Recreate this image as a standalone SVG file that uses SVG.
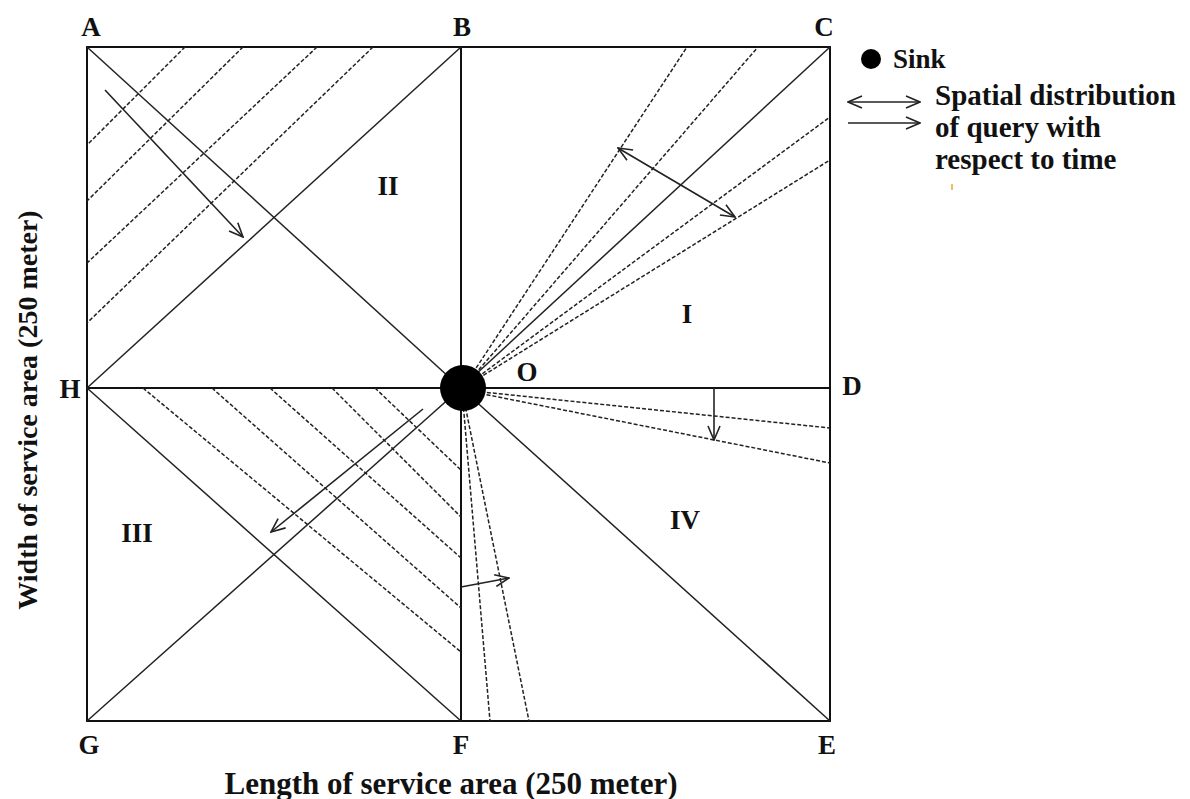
<svg xmlns="http://www.w3.org/2000/svg" width="1190" height="799" viewBox="0 0 1190 799">
  <style>
    .frame { fill: none; stroke: #111; stroke-width: 2; }
    .solid { fill: none; stroke: #222; stroke-width: 1.5; }
    .dash { fill: none; stroke: #222; stroke-width: 1.5; stroke-dasharray: 4 2; }
    .arrow { fill: none; stroke: #222; stroke-width: 1.6; }
    .lbl { font-family: "Liberation Serif", "Times New Roman", serif; font-weight: bold; font-size: 27px; fill: #111; }
    .legend { font-family: "Liberation Serif", "Times New Roman", serif; font-weight: bold; font-size: 29px; fill: #111; }
    .axis { font-family: "Liberation Serif", "Times New Roman", serif; font-weight: bold; font-size: 31px; fill: #111; }
    .axis-v { font-family: "Liberation Serif", "Times New Roman", serif; font-weight: bold; font-size: 28px; fill: #111; }
  </style>
  <defs>
    <marker id="head" viewBox="0 0 16 14" refX="15" refY="7" markerWidth="16" markerHeight="14" markerUnits="userSpaceOnUse" orient="auto-start-reverse">
      <path d="M1,1 L15,7 L1,13" fill="none" stroke="#222" stroke-width="1.6"/>
    </marker>
  </defs>

  <rect width="1190" height="799" fill="#fff"/>

  <!-- service area frame and quadrant dividers -->
  <g id="frame">
    <rect class="frame" x="87" y="47" width="743" height="674"/>
    <line class="frame" x1="461" y1="47" x2="461" y2="721"/>
    <line class="frame" x1="87" y1="388" x2="830" y2="388"/>
  </g>

  <!-- quadrant diagonals -->
  <g id="diagonals">
    <line class="solid" x1="87" y1="47" x2="461" y2="388"/>
    <line class="solid" x1="87" y1="388" x2="461" y2="47"/>
    <line class="solid" x1="87" y1="388" x2="461" y2="721"/>
    <line class="solid" x1="87" y1="721" x2="461" y2="388"/>
    <line class="solid" x1="461" y1="388" x2="830" y2="721"/>
    <line class="solid" x1="461" y1="388" x2="830" y2="47"/>
  </g>

  <g id="connectors">
    <!-- quadrant II: parallel query fronts -->
    <line class="dash" x1="185" y1="47" x2="87" y2="145"/>
    <line class="dash" x1="243" y1="47" x2="87" y2="201"/>
    <line class="dash" x1="317" y1="47" x2="87" y2="263"/>
    <line class="dash" x1="373" y1="47" x2="87" y2="323"/>
    <line class="arrow" x1="105" y1="90" x2="243" y2="237" marker-end="url(#head)"/>

    <!-- quadrant III: parallel query fronts -->
    <line class="dash" x1="143" y1="388" x2="461" y2="652"/>
    <line class="dash" x1="212" y1="388" x2="461" y2="608"/>
    <line class="dash" x1="270" y1="388" x2="461" y2="558"/>
    <line class="dash" x1="332" y1="388" x2="461" y2="517"/>
    <line class="dash" x1="375" y1="388" x2="461" y2="470"/>
    <line class="arrow" x1="423" y1="409" x2="271" y2="532" marker-end="url(#head)"/>

    <!-- quadrant I: fan from sink -->
    <line class="dash" x1="463" y1="388" x2="687" y2="47"/>
    <line class="dash" x1="463" y1="388" x2="758" y2="47"/>
    <line class="dash" x1="463" y1="388" x2="830" y2="117"/>
    <line class="dash" x1="463" y1="388" x2="830" y2="160"/>
    <line class="arrow" x1="618" y1="148" x2="735" y2="217" marker-start="url(#head)" marker-end="url(#head)"/>

    <!-- quadrant IV: fans from sink -->
    <line class="dash" x1="463" y1="390" x2="830" y2="428"/>
    <line class="dash" x1="463" y1="390" x2="830" y2="463"/>
    <line class="arrow" x1="714" y1="388" x2="714" y2="440" marker-end="url(#head)"/>
    <line class="dash" x1="462" y1="390" x2="490" y2="721"/>
    <line class="dash" x1="462" y1="390" x2="529" y2="721"/>
    <line class="arrow" x1="461" y1="587" x2="509" y2="578" marker-end="url(#head)"/>
  </g>

  <!-- sink -->
  <g id="sink">
    <circle cx="463" cy="388" r="23" fill="#000"/>
  </g>

  <!-- corner and region labels -->
  <g id="labels">
    <text class="lbl" x="91" y="36" text-anchor="middle">A</text>
    <text class="lbl" x="462" y="36" text-anchor="middle">B</text>
    <text class="lbl" x="824" y="36" text-anchor="middle">C</text>
    <text class="lbl" x="852" y="395" text-anchor="middle">D</text>
    <text class="lbl" x="70" y="398" text-anchor="middle">H</text>
    <text class="lbl" x="89" y="754" text-anchor="middle">G</text>
    <text class="lbl" x="461" y="754" text-anchor="middle">F</text>
    <text class="lbl" x="827" y="754" text-anchor="middle">E</text>
    <text class="lbl" x="527" y="381" text-anchor="middle">O</text>
    <text class="lbl" x="687" y="323" text-anchor="middle">I</text>
    <text class="lbl" x="388" y="195" text-anchor="middle">II</text>
    <text class="lbl" x="137" y="542" text-anchor="middle">III</text>
    <text class="lbl" x="685" y="529" text-anchor="middle">IV</text>
  </g>

  <!-- legend -->
  <g id="legend">
    <circle cx="871" cy="59" r="10" fill="#000"/>
    <text class="lbl" x="893" y="68">Sink</text>
    <line class="arrow" x1="848" y1="102" x2="920" y2="102" marker-start="url(#head)" marker-end="url(#head)"/>
    <line class="arrow" x1="848" y1="123" x2="920" y2="123" marker-end="url(#head)"/>
    <text class="legend" x="935" y="105">Spatial distribution</text>
    <text class="legend" x="935" y="137">of query with</text>
    <text class="legend" x="935" y="169">respect to time</text>
    <line x1="952" y1="184" x2="952" y2="190" stroke="#f0a030" stroke-width="1.5"/>
  </g>

  <!-- axis titles -->
  <g id="axes">
    <text class="axis" x="451" y="794" text-anchor="middle">Length of service area (250 meter)</text>
    <text class="axis-v" x="0" y="0" text-anchor="middle" transform="translate(37,410) rotate(-90)">Width of service area (250 meter)</text>
  </g>
</svg>
